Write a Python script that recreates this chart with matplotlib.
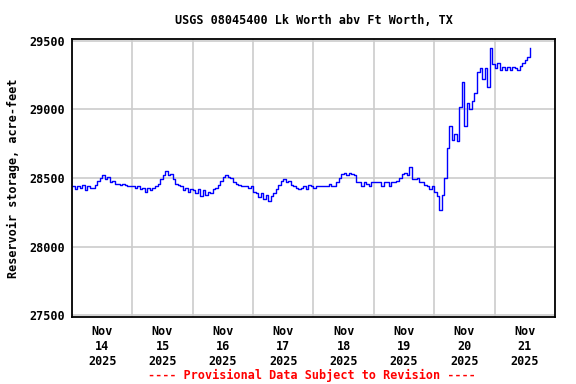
import matplotlib
matplotlib.use("Agg")
import matplotlib.pyplot as plt
import matplotlib.dates as mdates
import numpy as np
import pandas as pd

# hourly reservoir storage (acre-feet), one list per day
nov14 = [28440, 28420, 28445, 28430, 28450, 28410, 28440, 28430, 28430, 28450, 28480, 28500,
         28520, 28490, 28510, 28470, 28480, 28460, 28460, 28450, 28460, 28450, 28440, 28440]
nov15 = [28440, 28430, 28440, 28420, 28430, 28400, 28430, 28410, 28430, 28440, 28460, 28490,
         28520, 28550, 28520, 28530, 28490, 28460, 28450, 28440, 28410, 28430, 28400, 28420]
nov16 = [28410, 28390, 28420, 28370, 28410, 28380, 28400, 28390, 28420, 28430, 28450, 28480,
         28510, 28520, 28510, 28500, 28470, 28460, 28450, 28440, 28440, 28440, 28430, 28440]
nov17 = [28400, 28390, 28360, 28390, 28350, 28380, 28330, 28370, 28390, 28420, 28450, 28480,
         28490, 28470, 28480, 28450, 28440, 28430, 28420, 28430, 28440, 28420, 28450, 28440]
nov18 = [28430, 28440, 28440, 28440, 28440, 28440, 28460, 28440, 28440, 28470, 28500, 28530,
         28540, 28520, 28540, 28530, 28520, 28470, 28470, 28440, 28470, 28460, 28440, 28470]
nov19 = [28470, 28470, 28470, 28440, 28470, 28470, 28440, 28470, 28470, 28480, 28500, 28530,
         28540, 28520, 28580, 28490, 28490, 28500, 28470, 28470, 28450, 28440, 28420, 28440]
nov20 = [28400, 28370, 28270, 28380, 28500, 28720, 28880, 28780, 28820, 28770, 29020, 29200,
         28880, 29050, 29000, 29060, 29120, 29270, 29300, 29220, 29300, 29160, 29450, 29330]
nov21 = [29300, 29340, 29290, 29310, 29290, 29310, 29290, 29310, 29300, 29290, 29320, 29340,
         29360, 29380, 29450]

storage = nov14 + nov15 + nov16 + nov17 + nov18 + nov19 + nov20 + nov21
times = pd.date_range("2025-11-14 00:00", periods=len(storage), freq="h")

title = "USGS 08045400 Lk Worth abv Ft Worth, TX"
ylabel = "Reservoir storage, acre-feet"
footer = "---- Provisional Data Subject to Revision ----"

plt.rcParams["font.family"] = ["DejaVu Sans Mono"]
plt.rcParams["font.weight"] = "bold"
plt.rcParams["font.size"] = 8.5

fig = plt.figure(figsize=(5.76, 3.84), dpi=100)
ax = fig.add_axes([0.125, 0.175, 0.8385, 0.723])

ax.plot(times, storage, color="#0000ff", linewidth=1.0, drawstyle="steps-post")

ax.set_xlim(pd.Timestamp("2025-11-14"), pd.Timestamp("2025-11-22"))
ax.set_ylim(27490, 29512)
ax.set_yticks([27500, 28000, 28500, 29000, 29500])

# labels at noon, grid lines at midnight
ax.xaxis.set_major_locator(mdates.HourLocator(byhour=[12]))
ax.xaxis.set_major_formatter(mdates.DateFormatter("%b\n%d\n%Y"))
ax.xaxis.set_minor_locator(mdates.DayLocator())
ax.grid(True, which="minor", axis="x", color="#cccccc", linewidth=1.2)
ax.grid(True, which="major", axis="y", color="#cccccc", linewidth=1.2)
ax.set_axisbelow(True)
ax.tick_params(which="both", length=0, pad=6)
ax.tick_params(axis="y", pad=5)

for sp in ax.spines.values():
    sp.set_linewidth(1.3)

ax.set_title(title, fontsize=8.5, fontweight="bold", pad=11)
ax.set_ylabel(ylabel, fontsize=8.5, fontweight="bold", labelpad=7)
fig.text(0.542, 0.013, footer, color="red", ha="center", fontsize=8.5, fontweight="bold")

fig.savefig("out.png", dpi=100)
